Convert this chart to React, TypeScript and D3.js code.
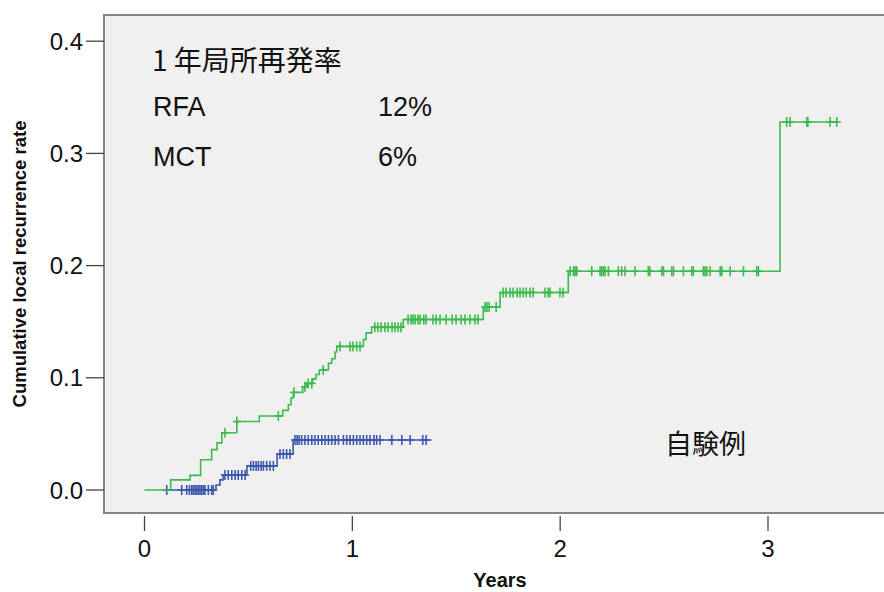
import * as d3 from 'd3'

// Kaplan-Meier style cumulative recurrence
const rfaStart = 0
const rfaEnd = 3.331
const rfaTimes = [0.126, 0.219, 0.27, 0.323, 0.349, 0.372, 0.444, 0.552, 0.665, 0.692, 0.705, 0.716, 0.761, 0.781, 0.809, 0.825, 0.841, 0.885, 0.901, 0.917, 0.925, 1.053, 1.066, 1.093, 1.245, 1.63, 1.711, 2.039, 3.058]
const rfaRates = [0.009, 0.013, 0.027, 0.036, 0.042, 0.051, 0.061, 0.066, 0.071, 0.076, 0.082, 0.087, 0.092, 0.095, 0.099, 0.103, 0.107, 0.113, 0.117, 0.123, 0.128, 0.134, 0.14, 0.145, 0.152, 0.163, 0.176, 0.195, 0.328]
const rfaCensored = [
  0.387, 0.444, 0.644, 0.719, 0.772, 0.787, 0.805, 0.86, 0.941, 0.989, 1.003, 1.021, 1.037,
  1.108, 1.123, 1.138, 1.157, 1.172, 1.191, 1.205, 1.22, 1.234,
  1.268, 1.283, 1.292, 1.302, 1.316, 1.326, 1.344, 1.355, 1.388, 1.403, 1.422, 1.451, 1.48, 1.499, 1.523, 1.542, 1.566, 1.59, 1.605,
  1.639, 1.648, 1.658, 1.692,
  1.725, 1.74, 1.759, 1.773, 1.793, 1.807, 1.822, 1.836, 1.855, 1.87, 1.927, 1.942, 1.951, 1.999, 2.014,
  2.048, 2.064, 2.072, 2.08, 2.152, 2.192, 2.2, 2.208, 2.216, 2.232, 2.28, 2.296, 2.312, 2.36, 2.424, 2.432, 2.489, 2.497,
  2.537, 2.545, 2.593, 2.633, 2.641, 2.689, 2.697, 2.706, 2.721, 2.77, 2.778, 2.818, 2.882, 2.946, 2.954,
  3.09, 3.106, 3.187, 3.192, 3.299, 3.331,
]

const mctStart = 0.1
const mctEnd = 1.382
const mctTimes = [0.344, 0.363, 0.378, 0.493, 0.638, 0.715]
const mctRates = [0.0045, 0.009, 0.0134, 0.0215, 0.032, 0.0446]
const mctCensored = [
  0.107, 0.179, 0.203, 0.216, 0.227, 0.235, 0.243, 0.251, 0.259, 0.267, 0.275, 0.283, 0.291, 0.307, 0.323, 0.331,
  0.387, 0.403, 0.42, 0.436, 0.451, 0.468, 0.484,
  0.511, 0.524, 0.537, 0.548, 0.561, 0.572, 0.588, 0.604, 0.62,
  0.652, 0.668, 0.684, 0.7,
  0.724, 0.734, 0.744, 0.756, 0.772, 0.788, 0.805, 0.82, 0.836, 0.853, 0.869, 0.885, 0.901, 0.917, 0.933, 0.957, 0.973,
  0.989, 1.005, 1.021, 1.037, 1.053, 1.069, 1.085, 1.104, 1.117, 1.133, 1.19, 1.238, 1.278, 1.339, 1.355,
]

const xTicks = [0, 1, 2, 3]
const yTicks = [0, 0.1, 0.2, 0.3, 0.4]

const W = 884
const H = 592
const box = { left: 104, top: 15, bottom: 513 }

const x = d3.scaleLinear().domain([0, 3]).range([144.5, 768])
const y = d3.scaleLinear().domain([0, 0.4]).range([490, 41.2])

type Pt = [number, number]

function stepPoints(start: number, end: number, times: number[], rates: number[]): Pt[] {
  const pts: Pt[] = [[start, 0]]
  times.forEach((t, i) => pts.push([t, rates[i]]))
  pts.push([end, rates[rates.length - 1]])
  return pts
}

function rateAt(t: number, times: number[], rates: number[]) {
  const i = d3.bisectRight(times, t)
  return i === 0 ? 0 : rates[i - 1]
}

const line = d3.line<Pt>()
  .x(d => x(d[0]))
  .y(d => y(d[1]))
  .curve(d3.curveStepAfter)

function Curve({ start, end, times, rates, censored, color }: any) {
  return (
    <g stroke={color} fill="none" strokeWidth={1.6}>
      <path d={line(stepPoints(start, end, times, rates)) || ''} />
      {censored.map((c: number, i: number) => {
        const cx = x(c)
        const cy = y(rateAt(c, times, rates))
        return (
          <g key={i}>
            <line x1={cx} x2={cx} y1={cy - 5} y2={cy + 5} />
            <line x1={cx - 4} x2={cx + 4} y1={cy} y2={cy} />
          </g>
        )
      })}
    </g>
  )
}

export default function App() {
  const sans = 'Arial, "Liberation Sans", sans-serif'
  const cjk = '"Noto Sans CJK JP", sans-serif'
  return (
    <div style={{ position: 'fixed', left: 0, top: 0 }}>
      <svg width={W} height={H} style={{ display: 'block', background: '#fff' }}>
        <rect x={box.left} y={box.top} width={W - box.left + 10} height={box.bottom - box.top}
          fill="#f0f0f0" stroke="#858585" strokeWidth={2} />

        {/* y axis */}
        {yTicks.map(v => (
          <g key={v}>
            <line x1={86} x2={box.left} y1={y(v)} y2={y(v)} stroke="#444" strokeWidth={1.3} />
            <text x={83} y={y(v)} dy="0.36em" textAnchor="end" fontFamily={sans} fontSize={24} fill="#111">
              {v.toFixed(1)}
            </text>
          </g>
        ))}
        <text transform={`translate(26,${264}) rotate(-90)`} textAnchor="middle"
          fontFamily={sans} fontWeight="bold" fontSize={18.5} fill="#111">
          Cumulative local recurrence rate
        </text>

        {/* x axis */}
        {xTicks.map(v => (
          <g key={v}>
            <line x1={x(v)} x2={x(v)} y1={box.bottom + 3} y2={531} stroke="#444" strokeWidth={1.3} />
            <text x={x(v)} y={557} textAnchor="middle" fontFamily={sans} fontSize={24} fill="#111">
              {v}
            </text>
          </g>
        ))}
        <text x={500} y={587} textAnchor="middle" fontFamily={sans} fontWeight="bold" fontSize={20} fill="#111">
          Years
        </text>

        <Curve start={mctStart} end={mctEnd} times={mctTimes} rates={mctRates} censored={mctCensored} color="#3d57ad" />
        <Curve start={rfaStart} end={rfaEnd} times={rfaTimes} rates={rfaRates} censored={rfaCensored} color="#3dba4e" />

        {/* annotations */}
        <text x={152} y={71} fontFamily={cjk} fontSize={28} fill="#111">1 年局所再発率</text>
        <text x={153} y={116} fontFamily={sans} fontSize={27} fill="#111">RFA</text>
        <text x={378} y={116} fontFamily={sans} fontSize={27} fill="#111">12%</text>
        <text x={153} y={166} fontFamily={sans} fontSize={27} fill="#111">MCT</text>
        <text x={378} y={166} fontFamily={sans} fontSize={27} fill="#111">6%</text>
        <text x={665} y={454} fontFamily={cjk} fontSize={27} fill="#111">自験例</text>
      </svg>
    </div>
  )
}
